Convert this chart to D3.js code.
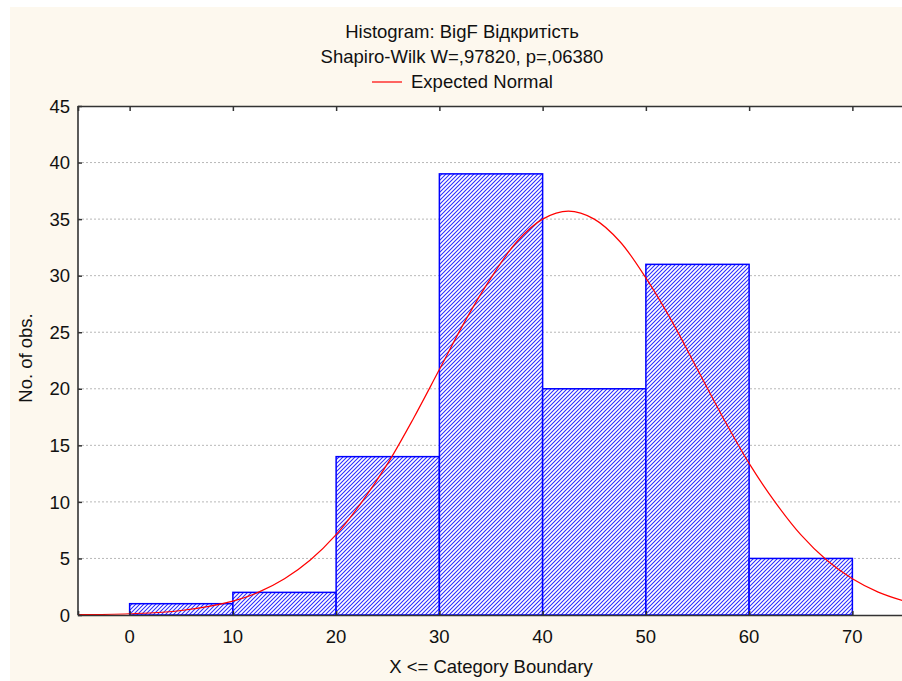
<!DOCTYPE html>
<html>
<head>
<meta charset="utf-8">
<script src="https://cdn.jsdelivr.net/npm/d3@7"></script>
<style>
  body { margin: 0; background: #fff; }
  text { font-family: "Liberation Sans", Arial, sans-serif; fill: #111; font-size: 18.5px; }
</style>
</head>
<body>
<svg width="902" height="681"></svg>
<script>
// data
const binStarts = [0, 10, 20, 30, 40, 50, 60]
const binWidth = 10
const counts = [1, 2, 14, 39, 20, 31, 5]
const xTicks = [0, 10, 20, 30, 40, 50, 60, 70]
const yTicks = [0, 5, 10, 15, 20, 25, 30, 35, 40, 45]
// expected normal curve
const curveX = [-5, 0, 5, 10, 12.5, 15, 17.5, 20, 22.5, 25, 27.5, 30, 32.5, 35, 37.5, 40, 42.5,
                45, 47.5, 50, 52.5, 55, 57.5, 60, 62.5, 65, 67.5, 70, 72.5, 75]
const curveY = [0.03, 0.11, 0.4, 1.23, 2.02, 3.2, 4.86, 7.1, 10.0, 13.4, 17.4, 21.7, 26.0, 29.8, 33.0, 35.0, 35.7,
                35.0, 33.0, 29.8, 26.0, 21.7, 17.4, 13.4, 10.0, 7.1, 4.86, 3.2, 2.02, 1.23]

const title1 = 'Histogram: BigF Відкритість'
const title2 = 'Shapiro-Wilk W=,97820, p=,06380'
const legendLabel = 'Expected Normal'

const svg = d3.select('svg')
const width = +svg.attr('width')
const height = +svg.attr('height')

const plot = { left: 78, top: 106, right: 904, bottom: 615 }

// cream panel
svg.append('rect')
    .attr('x', 10).attr('y', 7)
    .attr('width', width - 10).attr('height', height - 7)
    .attr('fill', '#fdf8ee')

const x = d3.scaleLinear().domain([-5, 75]).range([plot.left, plot.right])
const y = d3.scaleLinear().domain([0, 45]).range([plot.bottom, plot.top])

const defs = svg.append('defs')
const pat = defs.append('pattern')
    .attr('id', 'hatch')
    .attr('patternUnits', 'userSpaceOnUse')
    .attr('width', 4).attr('height', 4)
pat.append('rect').attr('width', 4).attr('height', 4).attr('fill', '#fff')
pat.append('path')
    .attr('d', 'M-1,1 l2,-2 M0,4 l4,-4 M3,5 l2,-2')
    .attr('stroke', '#2a2aff')
    .attr('stroke-width', 1.05)

defs.append('clipPath').attr('id', 'clip')
  .append('rect')
    .attr('x', plot.left).attr('y', plot.top)
    .attr('width', plot.right - plot.left).attr('height', plot.bottom - plot.top)

// plot area
svg.append('rect')
    .attr('x', plot.left).attr('y', plot.top)
    .attr('width', plot.right - plot.left).attr('height', plot.bottom - plot.top)
    .attr('fill', '#fff')

// gridlines
svg.append('g')
  .selectAll('line')
  .data(yTicks.filter(d => d > 0 && d < 45))
  .join('line')
    .attr('x1', plot.left).attr('x2', plot.right)
    .attr('y1', d => y(d)).attr('y2', d => y(d))
    .attr('stroke', '#b8b8b8')
    .attr('stroke-dasharray', '2,2')

// bars
svg.append('g')
  .selectAll('rect')
  .data(counts)
  .join('rect')
    .attr('x', (d, i) => x(binStarts[i]))
    .attr('y', d => y(d))
    .attr('width', (d, i) => x(binStarts[i] + binWidth) - x(binStarts[i]))
    .attr('height', d => y(0) - y(d))
    .attr('fill', 'url(#hatch)')
    .attr('stroke', '#0000ff')
    .attr('stroke-width', 1.5)

// expected normal
const line = d3.line()
    .x((d, i) => x(curveX[i]))
    .y(d => y(d))
    .curve(d3.curveCatmullRom)
svg.append('path')
    .datum(curveY)
    .attr('clip-path', 'url(#clip)')
    .attr('d', line)
    .attr('fill', 'none')
    .attr('stroke', '#ff0000')
    .attr('stroke-width', 1.2)

// axes
const axisColor = '#333'
const yAxis = svg.append('g')
    .attr('transform', `translate(${plot.left},0)`)
    .call(d3.axisRight(y).tickValues(yTicks).tickSize(4).tickFormat(''))
const xTop = svg.append('g')
    .attr('transform', `translate(0,${plot.top})`)
    .call(d3.axisBottom(x).tickValues(xTicks).tickSize(5).tickFormat(''))
const xBottom = svg.append('g')
    .attr('transform', `translate(0,${plot.bottom})`)
    .call(d3.axisTop(x).tickValues(xTicks).tickSize(4).tickFormat(''))
;[yAxis, xTop, xBottom].forEach(g => {
    g.select('.domain').attr('stroke', axisColor).attr('stroke-width', 1.6)
    g.selectAll('.tick line').attr('stroke', axisColor).attr('stroke-width', 1.5)
})
yAxis.select('.domain').attr('d', `M0,${plot.top}V${plot.bottom}`)

// tick labels
svg.append('g')
  .selectAll('text')
  .data(yTicks)
  .join('text')
    .attr('x', plot.left - 8)
    .attr('y', d => y(d))
    .attr('dy', '0.36em')
    .attr('text-anchor', 'end')
    .text(d => d)
svg.append('g')
  .selectAll('text')
  .data(xTicks)
  .join('text')
    .attr('x', d => x(d))
    .attr('y', 643)
    .attr('text-anchor', 'middle')
    .text(d => d)

// axis titles
svg.append('text')
    .attr('x', x(35)).attr('y', 673)
    .attr('text-anchor', 'middle')
    .text('X <= Category Boundary')
svg.append('text')
    .attr('transform', 'translate(32,358) rotate(-90)')
    .attr('text-anchor', 'middle')
    .text('No. of obs.')

// titles and legend
svg.append('text')
    .attr('x', 462).attr('y', 38)
    .attr('text-anchor', 'middle')
    .text(title1)
svg.append('text')
    .attr('x', 462).attr('y', 63)
    .attr('text-anchor', 'middle')
    .text(title2)
svg.append('line')
    .attr('x1', 372).attr('x2', 402)
    .attr('y1', 82).attr('y2', 82)
    .attr('stroke', '#ff0000')
    .attr('stroke-width', 1.2)
svg.append('text')
    .attr('x', 411).attr('y', 88)
    .text(legendLabel)
</script>
</body>
</html>
